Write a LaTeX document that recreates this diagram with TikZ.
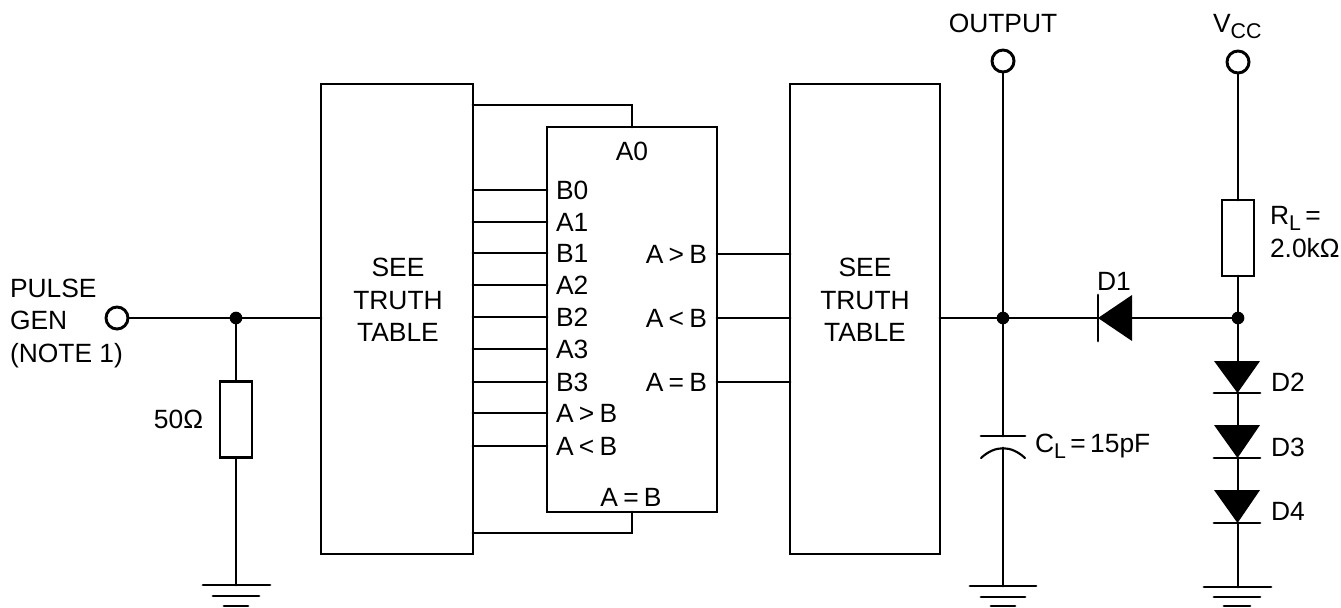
\documentclass[tikz,border=0pt]{standalone}
\usepackage{fontspec}
\setmainfont{Liberation Sans}
\usetikzlibrary{calc}
\newcommand{\lowsub}[1]{\raisebox{-4.5pt}{\fontsize{16}{16}\selectfont #1}}
\newcommand{\op}[1]{\hspace{0.2em}#1\hspace{0.2em}}
\tikzset{
  x=0.75pt,y=-0.75pt,
  wire/.style={line width=2.2pt,line cap=round,line join=miter},
  lbl/.style={font=\fontsize{19.8}{24.4}\selectfont,inner sep=0pt,outer sep=0pt,align=left},
  ctr/.style={font=\fontsize{19.8}{24.4}\selectfont,inner sep=0pt,outer sep=0pt,align=center},
  blockbox/.style={draw,line width=2pt,fill=white,inner sep=0pt,outer sep=0pt},
  term/.style={circle,draw,line width=2.2pt,fill=white,minimum size=16.5pt,inner sep=0pt,outer sep=0pt},
  dotj/.style={circle,fill=black,minimum size=9.5pt,inner sep=0pt,outer sep=0pt},
  res/.style={rectangle,draw,line width=2.2pt,fill=white,minimum width=24pt,minimum height=57pt,inner sep=0pt,outer sep=0pt},
}
\begin{document}
\begin{tikzpicture}
\useasboundingbox (0,0) rectangle (1341,607);
\fill[white] (0,0) rectangle (1341,607);
% blocks
\node[blockbox,minimum width=114pt,minimum height=352.5pt] (tt1) at (397,319) {};
\node[ctr] (tt1t) at (398,300) {SEE\\TRUTH\\TABLE};
\node[blockbox,minimum width=112.5pt,minimum height=352.5pt] (tt2) at (865,319) {};
\node[ctr] (tt2t) at (865,300) {SEE\\TRUTH\\TABLE};
\node[blockbox,minimum width=127.5pt,minimum height=288.75pt] (ic) at (632,319.5) {};
% top and bottom feedback wires
\coordinate (ta) at (473,105); \coordinate (tb) at (632,105); \coordinate (tc) at (632,127);
\coordinate (ba) at (473,533); \coordinate (bb) at (632,533); \coordinate (bc) at (632,512);
\draw[wire] (ta) -- (tb) -- (tc);
\draw[wire] (ba) -- (bb) -- (bc);
% IC text
\node[lbl] (a0) at (632,151) {A0};
\node[lbl] (aeqb) at (631,497) {A\op{=}B};
% input pins
\foreach \n/\yy/\t in {p1/190/B0,p2/222/A1,p3/253/B1,p4/285/A2,p5/317/B2,p6/349/A3,p7/382/B3,p8/413/{A\op{>}B},p9/446/{A\op{<}B}}{
  \coordinate (\n l) at (473,\yy);
  \coordinate (\n r) at (547,\yy);
  \draw[wire] (\n l) -- (\n r);
  \node[lbl,anchor=west] (\n t) at (556,\yy) {\t};
}
% output pins
\foreach \n/\yy/\t in {q1/254/{A\op{>}B},q2/318/{A\op{<}B},q3/382/{A\op{=}B}}{
  \coordinate (\n l) at (717,\yy);
  \coordinate (\n r) at (790,\yy);
  \draw[wire] (\n l) -- (\n r);
  \node[lbl,anchor=east] (\n t) at (707,\yy) {\t};
}
% pulse generator
\node[lbl] (pg) at (10,323.5) [anchor=west] {PULSE\\GEN\\(NOTE 1)};
\node[term] (in) at (117,318) {};
\node[dotj] (j1) at (236,318) {};
\coordinate (t1in) at (321,318);
\draw[wire] (in) -- (j1) -- (t1in);
\node[res] (r50) at (236,419.5) {};
\draw[wire] (j1) -- (r50);
\node[lbl,anchor=east] (r50t) at (203,419) {50\char"03A9};
\coordinate (g1) at (236,585);
\draw[wire] (r50) -- (g1);
\draw[wire] (203,585) -- (270,585) (213,596) -- (259,596) (224,606) -- (248,606);
% output
\coordinate (t2out) at (940,318);
\node[term] (out) at (1003,61) {};
\node[dotj] (j2) at (1003,318) {};
\node[lbl] (outt) at (1003,23) {OUTPUT};
\node[dotj] (j3) at (1238,318) {};
\draw[wire] (t2out) -- (j2);
\draw[wire] (out) -- (j2);
% capacitor
\coordinate (cp1) at (1003,436); \coordinate (cp2) at (1003,448); \coordinate (g2) at (1003,586);
\draw[wire] (j2) -- (cp1);
\draw[wire] (981,436) -- (1025,436);
\draw[line width=1.6pt,line cap=round] (981,458) .. controls (995,445) and (1011,445) .. (1025,458);
\draw[wire] (cp2) -- (g2);
\node[lbl,anchor=west] (cl) at (1035,446) {C\lowsub{L}\,=\,15pF};
\draw[wire] (970,586) -- (1036,586) (981,597) -- (1025,597) (991,606) -- (1015,606);
% D1
\coordinate (d1k) at (1098,318); \coordinate (d1a) at (1131,318);
\draw[wire] (j2) -- (d1k);
\draw[wire] (1098,295) -- (1098,341);
\fill (1098,318) -- (1132,295) -- (1132,341) -- cycle;
\draw[wire] (d1a) -- (j3);
\node[lbl] (d1t) at (1114,281) {D1};
% Vcc and load
\node[term] (vcc) at (1238,62) {};
\node[lbl,anchor=west] (vcct) at (1213,27) {V\lowsub{CC}};
\node[res] (rl) at (1238,238) {};
\draw[wire] (vcc) -- (rl);
\draw[wire] (rl) -- (j3);
\node[lbl,anchor=west] (rlt) at (1270,232) {R\lowsub{L}\,=\\2.0k\char"03A9};
% diode stack
\foreach \n/\ya/\yb in {d2/361/393,d3/425/458,d4/490/523}{
  \fill (1214,\ya) -- (1260,\ya) -- (1237.5,\yb) -- cycle;
  \draw[wire] (1214,\yb) -- (1260,\yb);
  \coordinate (\n a) at (1238,\ya);
  \coordinate (\n k) at (1238,\yb);
}
\draw[wire] (j3) -- (d2a) (d2k) -- (d3a) (d3k) -- (d4a);
\coordinate (g3) at (1238,587);
\draw[wire] (d4k) -- (g3);
\draw[wire] (1204,587) -- (1271,587) (1214,597) -- (1260,597) (1224,606) -- (1250,606);
\node[lbl,anchor=west] (d2t) at (1271,382) {D2};
\node[lbl,anchor=west] (d3t) at (1271,447) {D3};
\node[lbl,anchor=west] (d4t) at (1271,511) {D4};
\end{tikzpicture}
\end{document}
